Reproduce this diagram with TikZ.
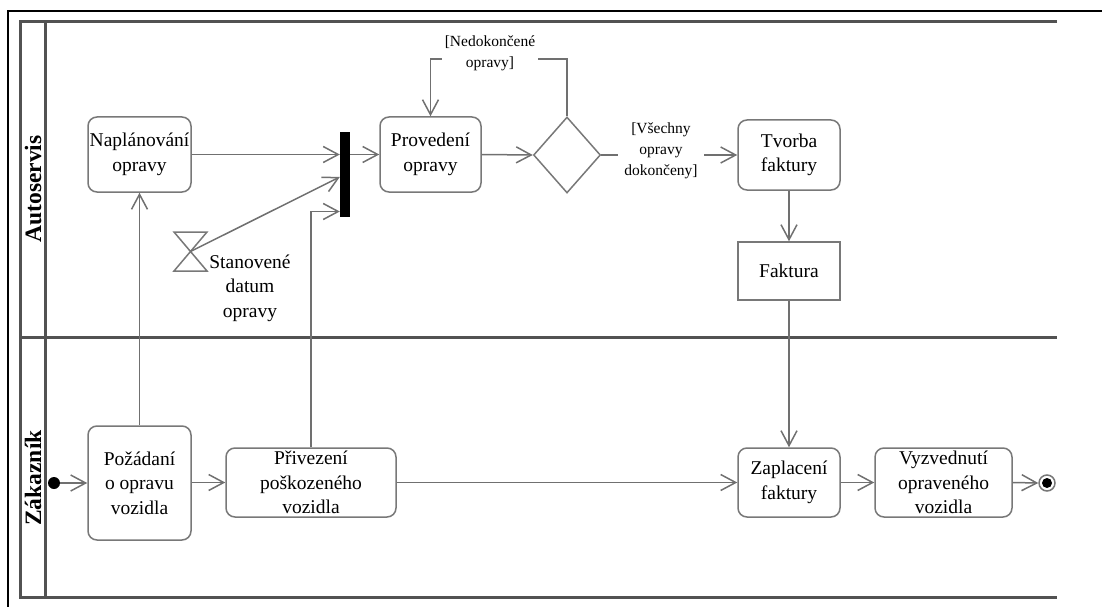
\documentclass[tikz,border=0pt]{standalone}
\usepackage{fontspec}
\setmainfont{Liberation Serif}
\usetikzlibrary{arrows.meta,shapes.geometric,calc}

\definecolor{linegray}{RGB}{112,112,112}
\definecolor{boxgray}{RGB}{120,120,120}
\definecolor{poolgray}{RGB}{82,82,82}

\tikzset{
  action/.style={draw=boxgray, line width=1.5pt, rounded corners=9pt,
    align=center, inner sep=0pt, font=\fontsize{19.5}{24.5}\selectfont},
  objbox/.style={draw=boxgray, line width=1.5pt, align=center, inner sep=0pt,
    font=\fontsize{19.5}{24.5}\selectfont},
  flow/.style={draw=linegray, line width=1.5pt,
    -{Straight Barb[length=15pt,width=16pt,line width=1.5pt]}},
  guard/.style={fill=white, align=center, inner sep=3pt,
    font=\fontsize{15.5}{21}\selectfont},
  lanelabel/.style={rotate=90, font=\fontsize{23.5}{28}\selectfont\bfseries},
  pool/.style={draw=poolgray, line width=3pt},
}

\begin{document}
\begin{tikzpicture}[x=1pt, y=-1pt]
\useasboundingbox (0,0) rectangle (1102,607);

% outer frame
\draw[black, line width=1.3pt] (8,607) -- (8,11) -- (1102,11);

% swimlane pool
\draw[pool] (1057,21.5) -- (20,21.5) -- (20,597.5) -- (1057,597.5);
\draw[pool] (20,337) -- (1057,337);
\draw[pool] (45,21.5) -- (45,597.5);
\node[lanelabel] (laneA) at (33,189) {Autoservis};
\node[lanelabel] (laneZ) at (33,478) {Zákazník};

% Autoservis lane
\node[action, minimum width=103pt, minimum height=75pt] (napl) at (139.5,154.5) {Naplánování\\opravy};
\node[fill=black, minimum width=10pt, minimum height=85pt, inner sep=0pt] (bar) at (345,174.5) {};
\node[action, minimum width=101pt, minimum height=75pt] (prov) at (430.5,154.5) {Provedení\\opravy};
\node[diamond, draw=boxgray, line width=1.5pt, minimum width=67pt, minimum height=76pt, inner sep=0pt] (dia) at (567,155) {};
\node[action, minimum width=102pt, minimum height=70pt] (tvorba) at (789,155) {Tvorba\\faktury};
\node[objbox, minimum width=102pt, minimum height=58pt] (faktura) at (789,271) {Faktura};

% time event
\coordinate (hg) at (190.5,251.5);
\draw[draw=boxgray, line width=1.5pt] (174,232) -- (207,232) -- (174,271) -- (207,271) -- cycle;
\node[align=center, font=\fontsize{19.5}{24.5}\selectfont] (hglabel) at (250,288) {Stanovené\\datum\\opravy};

% Zákazník lane
\node[circle, fill=black, minimum size=12pt, inner sep=0pt] (start) at (54,483) {};
\node[action, minimum width=103pt, minimum height=114pt] (pozad) at (139.5,483) {Požádaní\\o opravu\\vozidla};
\node[action, minimum width=170pt, minimum height=69pt] (priv) at (311,482.5) {Přivezení\\poškozeného\\vozidla};
\node[action, minimum width=102pt, minimum height=69pt] (zapl) at (789,482.5) {Zaplacení\\faktury};
\node[action, minimum width=137pt, minimum height=69pt] (vyzv) at (943.5,482.5) {Vyzvednutí\\opraveného\\vozidla};
\node[circle, draw=boxgray, fill=white, line width=1.5pt, minimum size=16pt, inner sep=0pt] (end) at (1047,483) {};
\node[circle, fill=black, minimum size=10pt, inner sep=0pt] (enddot) at (end) {};

% control flows
\draw[flow] (start) -- (pozad.west |- start);
\draw[flow] (pozad.east |- priv.west) -- (priv.west);
\draw[flow] (priv.east) -- (zapl.west);
\draw[flow] (zapl.east) -- (vyzv.west);
\draw[flow] (vyzv.east) -- (end.west);
\draw[flow] (pozad.north -| napl.south) -- (napl.south);
\draw[flow] (priv.north) |- ($(bar.west)+(0,37)$);
\draw[flow] (napl.east) -- (napl.east -| bar.west);
\draw[flow] (hg) -- ($(bar.west)+(0,2.5)$);
\draw[flow] (bar.east |- prov.west) -- (prov.west);
\draw[flow] (prov.east) -- (dia.west);
\draw[flow] (dia.north) -- ++(0,-57) -| (prov.north);
\node[guard] (gloop) at (490,53) {[Nedokončené\\opravy]};
\draw[flow] (dia.east) -- (tvorba.west);
\node[guard, inner xsep=6pt] (gdone) at (661,151) {[Všechny\\opravy\\dokončeny]};
\draw[flow] (tvorba.south) -- (faktura.north);
\draw[flow] (faktura.south) -- (zapl.north);
\end{tikzpicture}
\end{document}
